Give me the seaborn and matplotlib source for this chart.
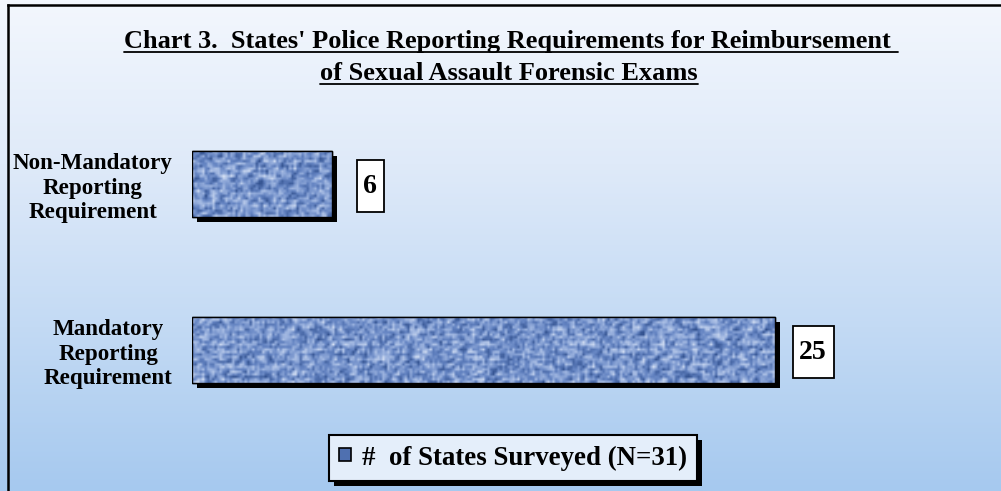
import numpy as np
import pandas as pd
import seaborn as sns
import matplotlib.pyplot as plt
import matplotlib.patheffects as pe
from matplotlib.colors import LinearSegmentedColormap
from matplotlib.patches import Patch, Rectangle
from matplotlib.path import Path

# данные
categories = ["Non-Mandatory\nReporting\nRequirement", "Mandatory\nReporting\nRequirement"]
states = [6, 25]
legend_label = "#  of States Surveyed (N=31)"
title_line1 = "Chart 3.  States' Police Reporting Requirements for Reimbursement "
title_line2 = "of Sexual Assault Forensic Exams"

df = pd.DataFrame({"category": categories, "states": states})

sns.set_style("white")
plt.rcParams["font.family"] = ["Liberation Serif", "DejaVu Serif"]
plt.rcParams["font.weight"] = "bold"
plt.rcParams["text.color"] = "black"
plt.rcParams["ytick.color"] = "black"
plt.rcParams["xtick.color"] = "black"

W, H = 1001, 491
fig = plt.figure(figsize=(W / 100, H / 100), dpi=100)

# фон с градиентом
bg = fig.add_axes([0, 0, 1, 1], zorder=-10)
bg_cmap = LinearSegmentedColormap.from_list("bg", ["#F3F7FD", "#DFEAF9", "#C3DAF4", "#A6C9EF"])
bg.imshow(np.linspace(0, 1, 256)[:, None], aspect="auto", cmap=bg_cmap,
          extent=[0, 1, 0, 1], origin="upper")
bg.plot([8 / W, 8 / W], [0, 1 - 5 / H], color="black", lw=1.8, solid_capstyle="projecting")
bg.plot([8 / W, 1], [1 - 5 / H, 1 - 5 / H], color="black", lw=1.8, solid_capstyle="projecting")
bg.set_xlim(0, 1)
bg.set_ylim(0, 1)
bg.axis("off")

# заголовок с подчеркиванием
t1 = fig.text(511 / W, 1 - 48 / H, title_line1, ha="center", va="baseline", fontsize=19, fontweight="bold")
t2 = fig.text(509 / W, 1 - 80 / H, title_line2, ha="center", va="baseline", fontsize=19, fontweight="bold")

# основная диаграмма
ax = fig.add_axes([192 / W, 58 / H, 699 / W, 332 / H])
ax.patch.set_alpha(0)
sns.barplot(data=df, y="category", x="states", orient="h", width=0.4,
            color="#7391CB", edgecolor="black", linewidth=1.0, ax=ax)
ax.set_xlim(0, 30)
ax.set_ylim(1.5, -0.5)
sns.despine(ax=ax, left=True, bottom=True)
ax.set_xticks([])
ax.set_xlabel("")
ax.set_ylabel("")
ax.tick_params(axis="y", length=0, pad=14)
for lbl in ax.get_yticklabels():
    lbl.set_fontsize(16.6)
    lbl.set_fontweight("bold")
    lbl.set_multialignment("center")

# текстура столбцов
tex_cmap = LinearSegmentedColormap.from_list("tex", ["#2E4D8A", "#6282C1", "#9EB5E0", "#DAE4F5"])
rng = np.random.default_rng(11)
for bar in ax.patches:
    b = bar.get_bbox()
    nx = max(int(b.width * 23.3 / 2.5), 4)
    noise = rng.random((27, nx))
    noise = 0.5 * noise + 0.25 * np.roll(noise, 1, axis=0) + 0.25 * np.roll(noise, 1, axis=1)
    noise[::3, :] *= 0.85
    noise[:, ::4] *= 1.1
    bar.set_path_effects([pe.withSimplePatchShadow(offset=(3.6, -3.6), shadow_rgbFace="black", alpha=1.0)])
    img = ax.imshow(noise, cmap=tex_cmap, aspect="auto", interpolation="bilinear",
                    extent=[b.x0, b.x1, b.y1, b.y0], zorder=bar.get_zorder() + 0.1)
    img.set_clip_path(bar)
    ax.add_patch(Rectangle((b.x0, b.y0), b.width, b.height, fill=False, ec="black",
                           lw=1.0, zorder=bar.get_zorder() + 0.2))
ax.set_xlim(0, 30)
ax.set_ylim(1.5, -0.5)


def tall_box(x0, y0, width, height, mutation_size):
    px, py = 0.24 * mutation_size, 0.5 * mutation_size
    x0, y0, x1, y1 = x0 - px, y0 - py, x0 + width + px, y0 + height + py
    return Path([(x0, y0), (x1, y0), (x1, y1), (x0, y1), (x0, y0)],
                [Path.MOVETO, Path.LINETO, Path.LINETO, Path.LINETO, Path.CLOSEPOLY])


for i, v in enumerate(states):
    ax.annotate(str(v), (v, i), xytext=(27.8, -1.5), textcoords="offset points",
                ha="center", va="center", fontsize=20, fontweight="bold",
                bbox=dict(boxstyle=tall_box, fc="white", ec="black", lw=1.3))

# легенда
handle = Patch(facecolor="#4F70B0", edgecolor="black", lw=1.2)
leg = fig.legend([handle], [legend_label], loc="center", bbox_to_anchor=(513 / W, 1 - 458 / H),
                 prop={"size": 19.4, "weight": "bold"}, frameon=True, fancybox=False,
                 handlelength=0.42, handleheight=0.36, handletextpad=0.4, borderpad=0.38,
                 borderaxespad=0)
frame = leg.get_frame()
frame.set_facecolor("#E4EEFA")
frame.set_edgecolor("black")
frame.set_linewidth(1.5)
frame.set_alpha(1)
frame.set_path_effects([pe.withSimplePatchShadow(offset=(3.6, -3.6), shadow_rgbFace="black", alpha=1.0)])

# подчеркивание заголовка
fig.canvas.draw()
r = fig.canvas.get_renderer()
for t, y in ((t1, 52), (t2, 84)):
    e = t.get_window_extent(r)
    fig.add_artist(plt.Line2D([e.x0 / W, e.x1 / W], [1 - y / H, 1 - y / H], color="black", lw=1.3))

fig.savefig("out.png", dpi=100)
